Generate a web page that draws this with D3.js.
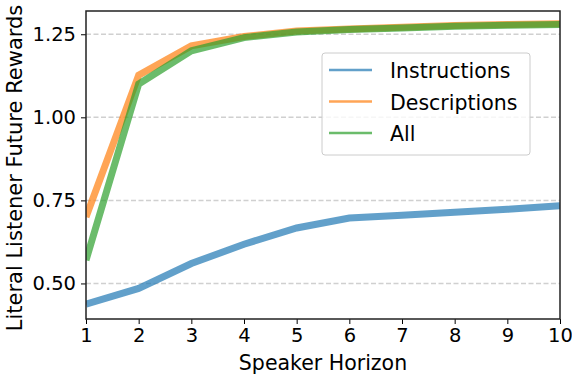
<!DOCTYPE html>
<html>
<head>
<meta charset="utf-8">
<script src="https://cdn.jsdelivr.net/npm/d3@7"></script>
<style>
  body { margin: 0; background: #fff; }
  text { font-family: "DejaVu Sans", sans-serif; }
</style>
</head>
<body>
<div id="chart"></div>
<script>
const horizons = [1, 2, 3, 4, 5, 6, 7, 8, 9, 10];
const instructions = [0.438, 0.485, 0.56, 0.618, 0.667, 0.697, 0.705, 0.714, 0.723, 0.734];
const descriptions = [0.70, 1.127, 1.215, 1.243, 1.260, 1.266, 1.271, 1.276, 1.279, 1.282];
const allSeries = [0.57, 1.10, 1.200, 1.240, 1.257, 1.264, 1.269, 1.274, 1.277, 1.279];
const yTicks = [0.50, 0.75, 1.00, 1.25];
const seriesNames = ["Instructions", "Descriptions", "All"];
const seriesColors = ["#1f77b4", "#ff7f0e", "#2ca02c"];

const width = 572, height = 376;
const margin = { left: 86, right: 12, top: 11, bottom: 57 };

const svg = d3.select("#chart").append("svg")
  .attr("width", width)
  .attr("height", height);

const x = d3.scaleLinear().domain([1, 10]).range([margin.left, width - margin.right]);
const y = d3.scaleLinear().domain([0.393, 1.32]).range([height - margin.bottom, margin.top]);

// grid
svg.append("g")
  .selectAll("line")
  .data(yTicks)
  .join("line")
  .attr("x1", x(1)).attr("x2", x(10))
  .attr("y1", d => y(d)).attr("y2", d => y(d))
  .attr("stroke", "#d0d0d0")
  .attr("stroke-width", 1.5)
  .attr("stroke-dasharray", "5,2.5");

// lines
const allData = [instructions, descriptions, allSeries];
const line = d3.line()
  .x((d, i) => x(horizons[i]))
  .y(d => y(d));

svg.append("clipPath").attr("id", "clip")
  .append("rect")
  .attr("x", margin.left).attr("y", margin.top)
  .attr("width", width - margin.left - margin.right)
  .attr("height", height - margin.top - margin.bottom);

svg.append("g")
  .attr("clip-path", "url(#clip)")
  .selectAll("path")
  .data(allData)
  .join("path")
  .attr("d", line)
  .attr("fill", "none")
  .attr("stroke", (d, i) => seriesColors[i])
  .attr("stroke-opacity", 0.7)
  .attr("stroke-width", 7);

// axes
const xAxis = svg.append("g")
  .attr("transform", `translate(0,${height - margin.bottom})`)
  .call(d3.axisBottom(x).tickValues(horizons).tickSize(5).tickPadding(4).tickFormat(d3.format("d")));

const yAxis = svg.append("g")
  .attr("transform", `translate(${margin.left},0)`)
  .call(d3.axisLeft(y).tickValues(yTicks).tickSize(5).tickPadding(5).tickFormat(d3.format(".2f")));

[xAxis, yAxis].forEach(a => {
  a.select(".domain").remove();
  a.selectAll("text").attr("font-size", 19.5).attr("fill", "#000").style("font-family", "DejaVu Sans");
  a.selectAll("line").attr("stroke", "#000");
});

// frame
svg.append("rect")
  .attr("x", margin.left).attr("y", margin.top)
  .attr("width", width - margin.left - margin.right)
  .attr("height", height - margin.top - margin.bottom)
  .attr("fill", "none")
  .attr("stroke", "#222")
  .attr("stroke-width", 1.5);

// axis labels
svg.append("text")
  .attr("x", (x(1) + x(10)) / 2)
  .attr("y", 370)
  .attr("text-anchor", "middle")
  .attr("font-size", 20.5)
  .text("Speaker Horizon");

svg.append("text")
  .attr("transform", "translate(22,168) rotate(-90)")
  .attr("text-anchor", "middle")
  .attr("font-size", 21)
  .text("Literal Listener Future Rewards");

// legend
const legend = svg.append("g").attr("transform", "translate(322,53)");
legend.append("rect")
  .attr("width", 208).attr("height", 102)
  .attr("rx", 3)
  .attr("fill", "#fff")
  .attr("fill-opacity", 0.8)
  .attr("stroke", "#ccc");

seriesNames.forEach((name, i) => {
  const ly = 17 + i * 31.5;
  legend.append("line")
    .attr("x1", 7).attr("x2", 50)
    .attr("y1", ly).attr("y2", ly)
    .attr("stroke", seriesColors[i])
    .attr("stroke-opacity", 0.7)
    .attr("stroke-width", 2.5);
  legend.append("text")
    .attr("x", 68).attr("y", ly + 8)
    .attr("font-size", 20.5)
    .text(name);
});
</script>
</body>
</html>
